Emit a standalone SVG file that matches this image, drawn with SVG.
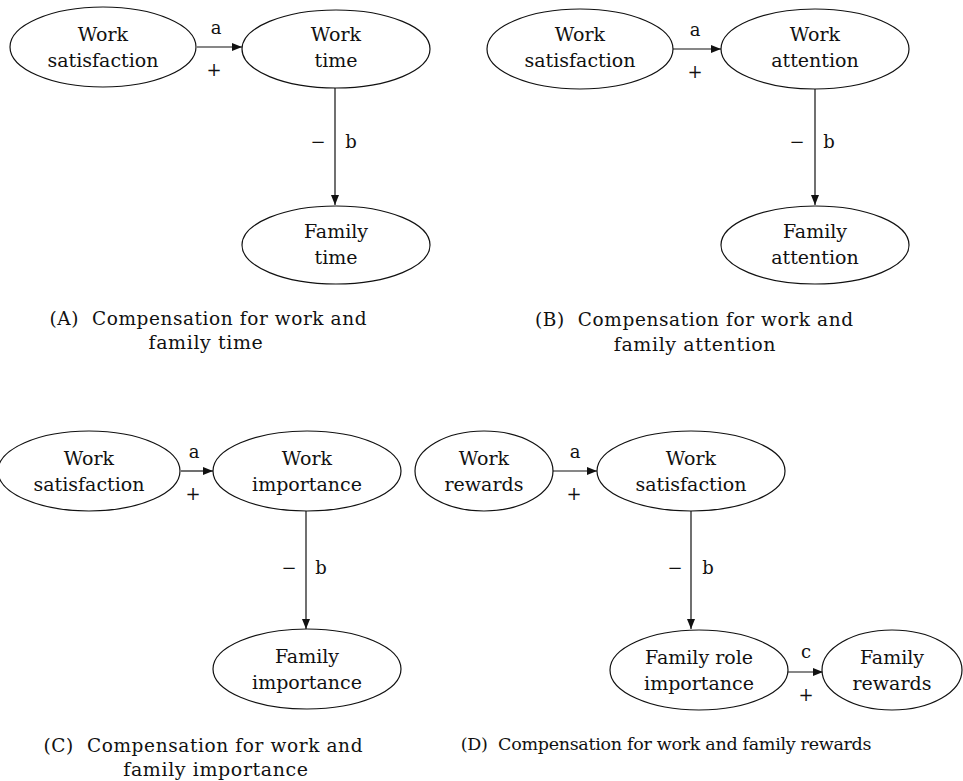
<svg xmlns="http://www.w3.org/2000/svg" width="963" height="781" viewBox="0 0 963 781">
<defs>
<marker id="ah" viewBox="0 0 10 8" refX="10" refY="4" markerWidth="10" markerHeight="8" markerUnits="userSpaceOnUse" orient="auto">
<path d="M0,0 L10,4 L0,8 Z" fill="#111"/>
</marker>
<style>
ellipse{fill:#fff;stroke:#111;stroke-width:1.2}
text{font-family:"DejaVu Serif","Liberation Serif",serif;font-size:19px;fill:#111;text-anchor:middle}
.lbl{font-size:18px}
.cap{font-size:18.5px}
.cap2{font-size:19px;letter-spacing:0.6px}
.capd{font-size:17.5px;letter-spacing:-0.3px}
line{stroke:#111;stroke-width:1.2}
</style>
</defs>
<rect width="963" height="781" fill="#fff"/>

<g id="connectors">
<line x1="197" y1="47" x2="242" y2="47" marker-end="url(#ah)"/>
<line x1="335" y1="88" x2="335" y2="205" marker-end="url(#ah)"/>
<line x1="673" y1="49" x2="721" y2="49" marker-end="url(#ah)"/>
<line x1="815" y1="89" x2="815" y2="205" marker-end="url(#ah)"/>
<line x1="181" y1="471" x2="213" y2="471" marker-end="url(#ah)"/>
<line x1="306" y1="511" x2="306" y2="629" marker-end="url(#ah)"/>
<line x1="552" y1="471" x2="597" y2="471" marker-end="url(#ah)"/>
<line x1="691" y1="511" x2="691" y2="629" marker-end="url(#ah)"/>
<line x1="788" y1="672" x2="823" y2="672" marker-end="url(#ah)"/>
<text class="lbl" x="216" y="34">a</text>
<text class="lbl" x="214" y="76">+</text>
<text class="lbl" x="318" y="148">−</text>
<text class="lbl" x="351" y="148">b</text>
<text class="lbl" x="695" y="36">a</text>
<text class="lbl" x="695" y="78">+</text>
<text class="lbl" x="797" y="148">−</text>
<text class="lbl" x="829" y="148">b</text>
<text class="lbl" x="194" y="458">a</text>
<text class="lbl" x="193" y="500">+</text>
<text class="lbl" x="289" y="574">−</text>
<text class="lbl" x="321" y="574">b</text>
<text class="lbl" x="575" y="458">a</text>
<text class="lbl" x="574" y="500">+</text>
<text class="lbl" x="675" y="574">−</text>
<text class="lbl" x="708" y="574">b</text>
<text class="lbl" x="806" y="658">c</text>
<text class="lbl" x="806" y="701">+</text>
</g>

<g id="a-work-satisfaction"><ellipse cx="103" cy="47" rx="93" ry="40"/><text x="103" y="41">Work</text><text x="103" y="67">satisfaction</text></g>
<g id="a-work-time"><ellipse cx="336" cy="49" rx="94" ry="39"/><text x="336" y="41">Work</text><text x="336" y="67">time</text></g>
<g id="a-family-time"><ellipse cx="336" cy="245" rx="94" ry="39"/><text x="336" y="238">Family</text><text x="336" y="264">time</text></g>
<g id="a-caption"><text class="cap" x="208" y="325" xml:space="preserve" textLength="317" lengthAdjust="spacing">(A)  Compensation for work and</text><text class="cap2" x="206" y="349">family time</text></g>

<g id="b-work-satisfaction"><ellipse cx="580" cy="49" rx="93" ry="40"/><text x="580" y="41">Work</text><text x="580" y="67">satisfaction</text></g>
<g id="b-work-attention"><ellipse cx="815" cy="49" rx="94" ry="40"/><text x="815" y="41">Work</text><text x="815" y="67">attention</text></g>
<g id="b-family-attention"><ellipse cx="815" cy="245" rx="94" ry="39"/><text x="815" y="238">Family</text><text x="815" y="264">attention</text></g>
<g id="b-caption"><text class="cap" x="694" y="326" xml:space="preserve" textLength="318" lengthAdjust="spacing">(B)  Compensation for work and</text><text class="cap2" x="695" y="351">family attention</text></g>

<g id="c-work-satisfaction"><ellipse cx="89" cy="471" rx="91" ry="40"/><text x="89" y="465">Work</text><text x="89" y="491">satisfaction</text></g>
<g id="c-work-importance"><ellipse cx="307" cy="471" rx="94" ry="40"/><text x="307" y="465">Work</text><text x="307" y="491">importance</text></g>
<g id="c-family-importance"><ellipse cx="307" cy="669" rx="94" ry="40"/><text x="307" y="663">Family</text><text x="307" y="689">importance</text></g>
<g id="c-caption"><text class="cap" x="203" y="752" xml:space="preserve" textLength="319" lengthAdjust="spacing">(C)  Compensation for work and</text><text class="cap2" x="216" y="776">family importance</text></g>

<g id="d-work-rewards"><ellipse cx="484" cy="471" rx="69" ry="40"/><text x="484" y="465">Work</text><text x="484" y="491">rewards</text></g>
<g id="d-work-satisfaction"><ellipse cx="691" cy="471" rx="94" ry="40"/><text x="691" y="465">Work</text><text x="691" y="491">satisfaction</text></g>
<g id="d-family-role-importance"><ellipse cx="699" cy="670" rx="89" ry="40"/><text x="699" y="664">Family role</text><text x="699" y="690">importance</text></g>
<g id="d-family-rewards"><ellipse cx="892" cy="670" rx="70" ry="40"/><text x="892" y="664">Family</text><text x="892" y="690">rewards</text></g>
<g id="d-caption"><text class="capd" x="666" y="750" xml:space="preserve">(D)  Compensation for work and family rewards</text></g>
</svg>
